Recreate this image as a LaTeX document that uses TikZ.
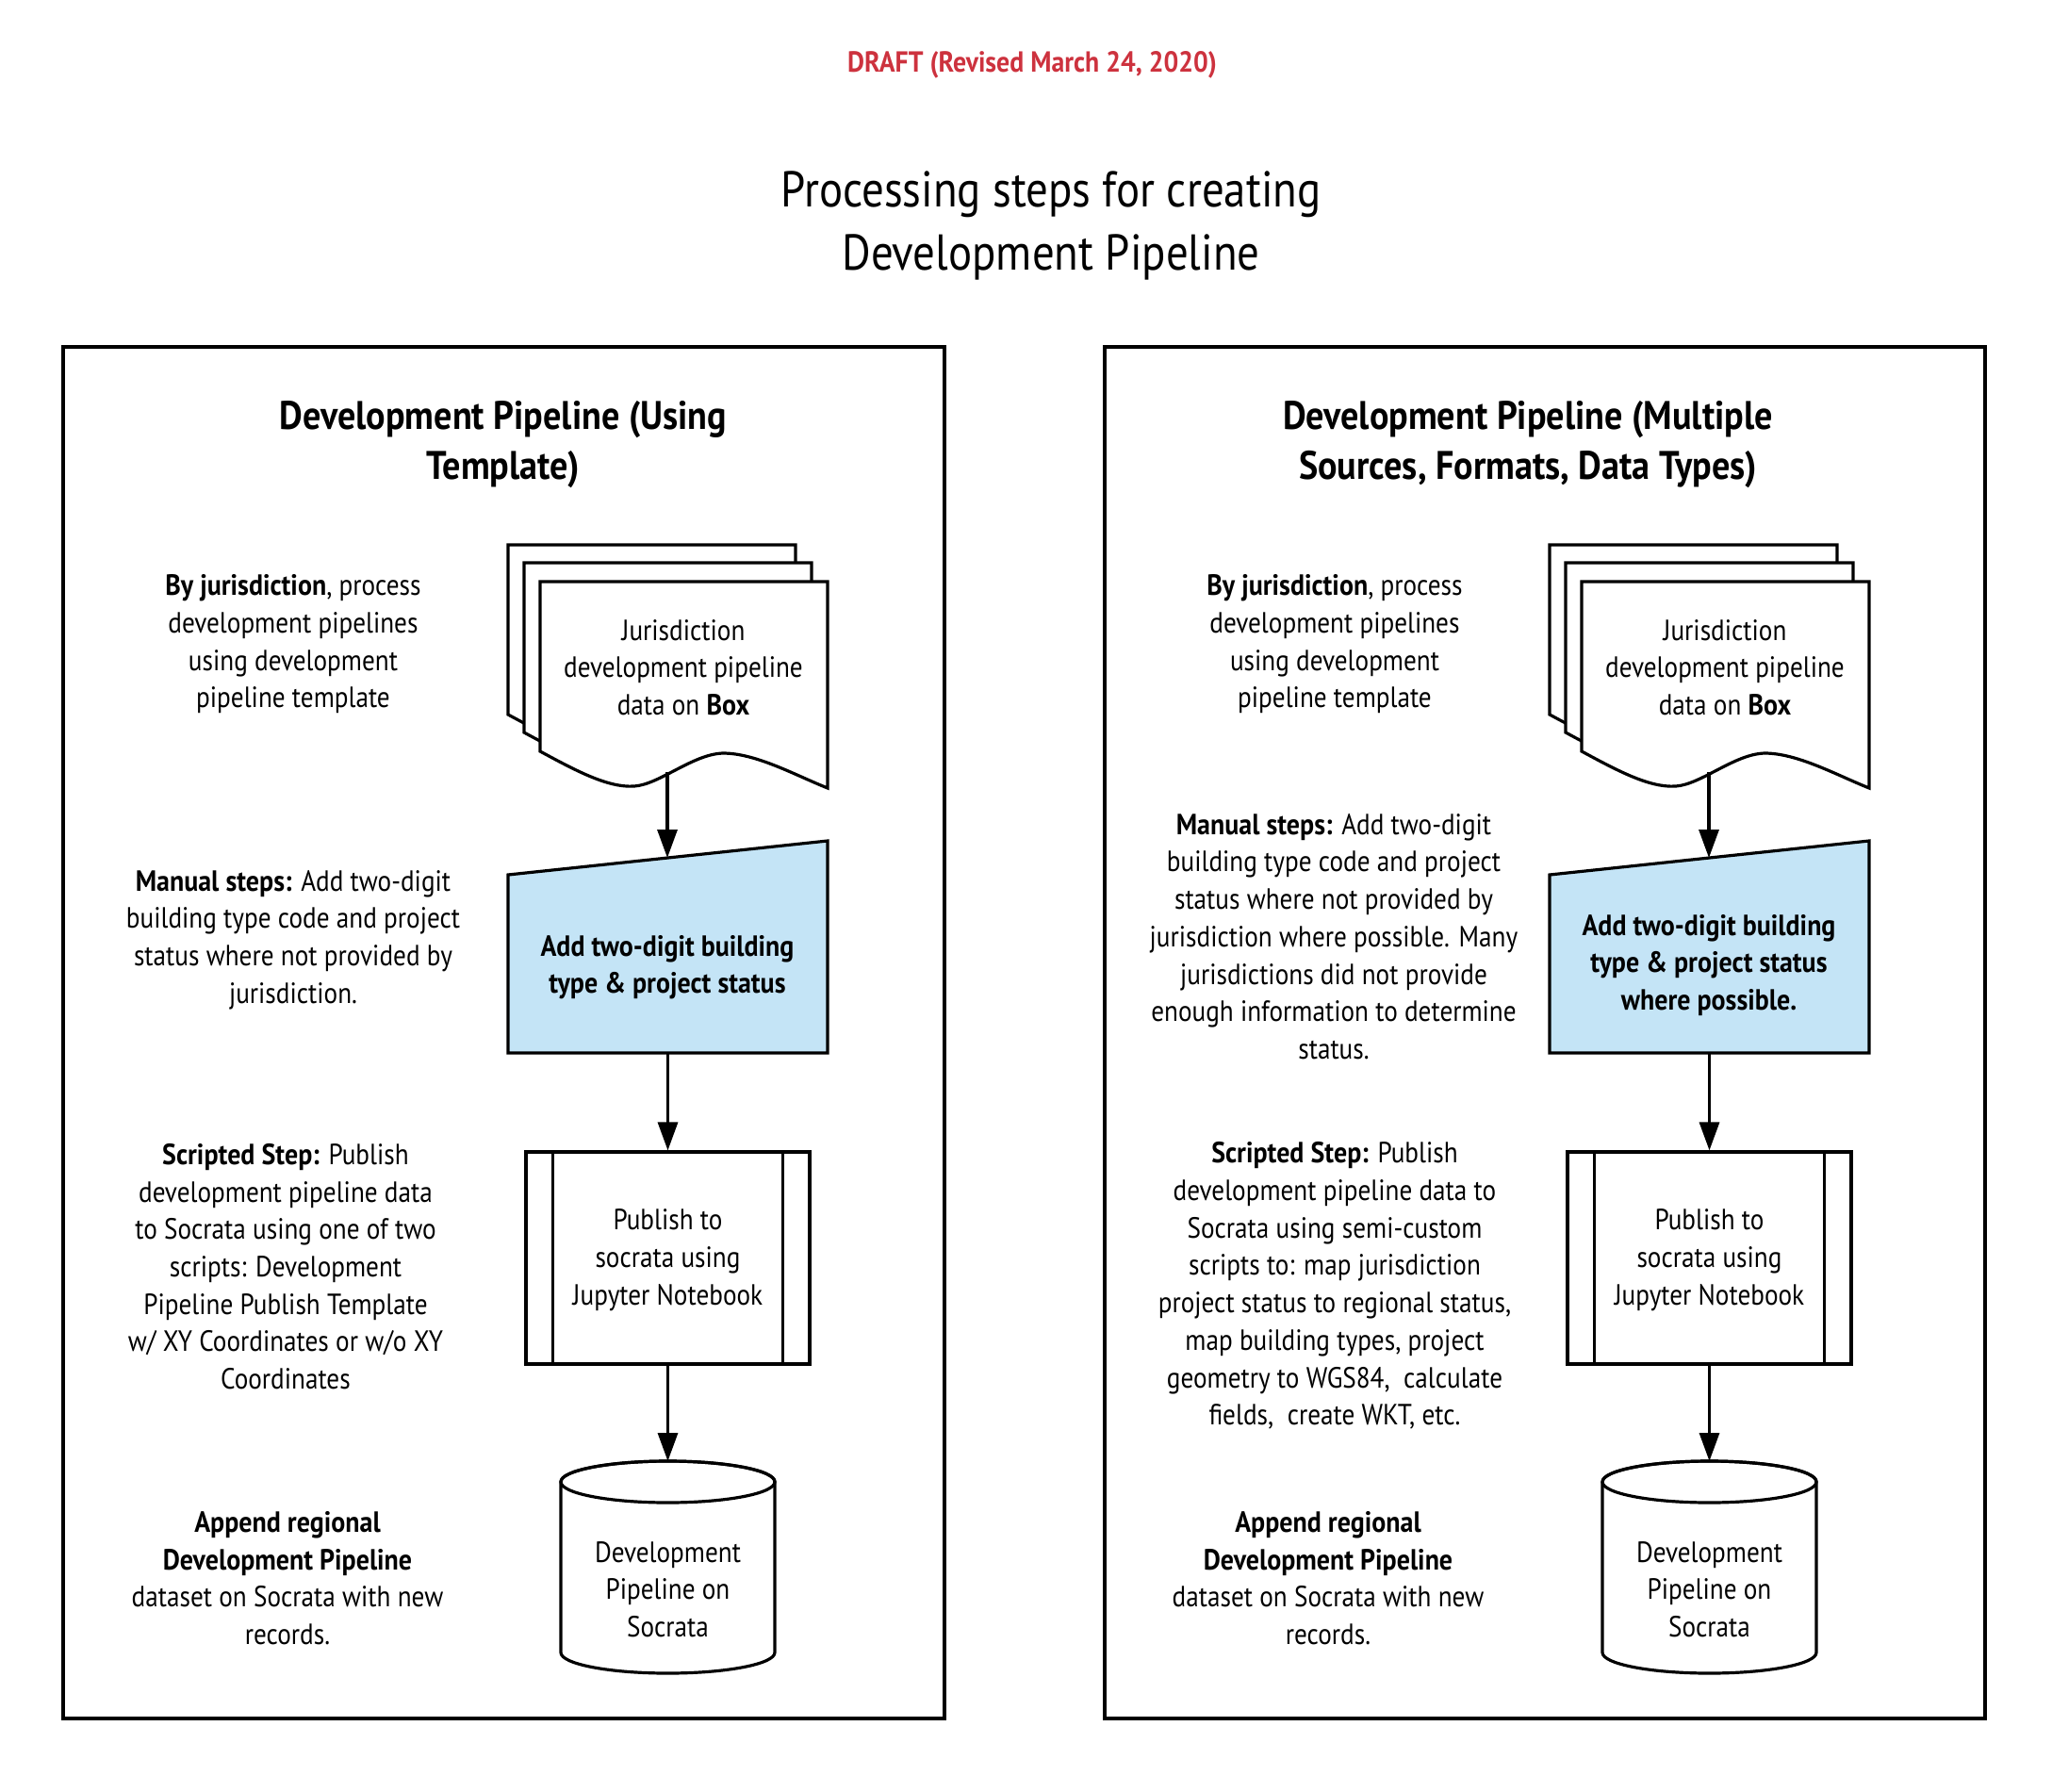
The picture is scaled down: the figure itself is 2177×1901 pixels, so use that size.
\documentclass[tikz,border=0pt]{standalone}
\usepackage{fontspec}
\setmainfont{PT Sans}[FakeStretch=0.878, BoldFeatures={FakeStretch=0.902}]
\usetikzlibrary{arrows.meta}
\definecolor{draftred}{RGB}{205,50,62}
\definecolor{manblue}{RGB}{196,228,246}
\newcommand\docpage[2]{%
  \begin{scope}[shift={(#1,#2)}]
    \draw[shp, fill=white] (0,0) -- (305,0) -- (305,219)
      .. controls (270,205) and (229,182) .. (194,182)
      .. controls (162,183) and (127,215) .. (100,217)
      .. controls (72,219) and (37,200) .. (0,180) -- cycle;
  \end{scope}}
\newcommand\cylshape[1]{%
  \begin{scope}[xshift=#1]
    \draw[shp, fill=white] (595,1572) -- (595,1753)
      .. controls (595,1765.15) and (645.8,1775) .. (708.5,1775)
      .. controls (771.2,1775) and (822,1765.15) .. (822,1753)
      -- (822,1572)
      .. controls (822,1559.85) and (771.2,1550) .. (708.5,1550)
      .. controls (645.8,1550) and (595,1559.85) .. (595,1572) -- cycle;
    \draw[shp] (708.5,1572) ellipse [x radius=113.5, y radius=22];
  \end{scope}}
\tikzset{
  shp/.style={line width=3.2pt, draw=black, line join=miter},
  panel/.style={line width=3.4pt, draw=black},
  body/.style={font=\fontsize{31}{39.7}\selectfont, align=center, inner sep=0pt},
  bbody/.style={font=\fontsize{31}{39.5}\selectfont\bfseries, align=center, inner sep=0pt},
  ptitle/.style={font=\fontsize{42.3}{53}\selectfont\bfseries, align=center, inner sep=0pt},
  mtitle/.style={font=\fontsize{53.4}{67}\selectfont, align=center, inner sep=0pt},
  draft/.style={font=\fontsize{30.8}{38}\selectfont\bfseries, text=draftred, inner sep=0pt},
  proc/.style={shp, fill=white, minimum width=301pt, minimum height=225pt, inner sep=0pt},
  arr/.style={line width=3.2pt, -{Triangle[length=30pt,width=21pt]}},
}
\begin{document}
\begin{tikzpicture}[x=1pt,y=-1pt]
\useasboundingbox[fill=white] (0,0) rectangle (2177,1901);

% headers
\node[draft] (draftlbl) at (1095,69) {DRAFT (Revised March 24, 2020)};
\node[mtitle] (maintitle) at (1115,239.5) {Processing steps for creating\\Development Pipeline};

% panels
\draw[panel] (67,368) rectangle (1002,1823);
\draw[panel] (1172,368) rectangle (2106,1823);
\node[ptitle] (lptitle) at (534,471.5) {Development Pipeline (Using\\Template)};
\node[ptitle] (rptitle) at (1621,471.5) {Development Pipeline (Multiple\\Sources, Formats, Data Types)};

% ---------- left flow ----------
\docpage{539}{578}
\docpage{556}{597}
\docpage{573}{617}
\node[body] (ldoc) at (725,708) {Jurisdiction\\development pipeline\\data on \textbf{Box}};
\coordinate (ldocb) at (708,819);
\draw[shp, fill=manblue] (539,928) -- (878,892) -- (878,1117) -- (539,1117) -- cycle;
\node[bbody] (lman) at (708,1026) {Add two-digit building\\type \& project status};
\coordinate (lmant) at (708,910);
\coordinate (lmanb) at (708.5,1117);
\node[proc] (lproc) at (708.5,1334.5) {};
\node[body] (lproct) at (708.5,1336.5) {Publish to\\socrata using\\Jupyter Notebook};
\draw[shp] ([xshift=30pt]lproc.north west) -- ([xshift=30pt]lproc.south west);
\draw[shp] ([xshift=-30pt]lproc.north east) -- ([xshift=-30pt]lproc.south east);
\cylshape{0pt}
\node[body] (lcyl) at (708.5,1686) {Development\\Pipeline on\\Socrata};
\coordinate (lcylt) at (708.5,1550);
\draw[arr] (ldocb) -- (lmant);
\draw[arr] (lmanb) -- (lproc.north);
\draw[arr] (lproc.south) -- (lcylt);

\node[body] (lt1) at (311,683.5) {\textbf{By jurisdiction}, process\\development pipelines\\using development\\pipeline template};
\node[body] (lt2) at (311,997) {\textbf{Manual steps:} Add two-digit\\building type code and project\\status where not provided by\\jurisdiction.};
\node[body] (lt3) at (303,1343.5) {\textbf{Scripted Step:} Publish\\development pipeline data\\to Socrata using one of two\\scripts: Development\\Pipeline Publish Template\\w/ XY Coordinates or w/o XY\\Coordinates};
\node[body] (lt4) at (305,1674) {\textbf{Append regional}\\\textbf{Development Pipeline}\\dataset on Socrata with new\\records.};

% ---------- right flow ----------
\docpage{1644}{578}
\docpage{1661}{597}
\docpage{1678}{617}
\node[body] (rdoc) at (1830,708) {Jurisdiction\\development pipeline\\data on \textbf{Box}};
\coordinate (rdocb) at (1813,819);
\draw[shp, fill=manblue] (1644,928) -- (1983,892) -- (1983,1117) -- (1644,1117) -- cycle;
\node[bbody] (rman) at (1813,1024) {Add two-digit building\\type \& project status\\where possible.};
\coordinate (rmant) at (1813,910);
\coordinate (rmanb) at (1813.5,1117);
\node[proc] (rproc) at (1813.5,1334.5) {};
\node[body] (rproct) at (1813.5,1336.5) {Publish to\\socrata using\\Jupyter Notebook};
\draw[shp] ([xshift=30pt]rproc.north west) -- ([xshift=30pt]rproc.south west);
\draw[shp] ([xshift=-30pt]rproc.north east) -- ([xshift=-30pt]rproc.south east);
\cylshape{1105pt}
\node[body] (rcyl) at (1813.5,1686) {Development\\Pipeline on\\Socrata};
\coordinate (rcylt) at (1813.5,1550);
\draw[arr] (rdocb) -- (rmant);
\draw[arr] (rmanb) -- (rproc.north);
\draw[arr] (rproc.south) -- (rcylt);

\node[body] (rt1) at (1416,683.5) {\textbf{By jurisdiction}, process\\development pipelines\\using development\\pipeline template};
\node[body] (rt2) at (1415,993.5) {\textbf{Manual steps:} Add two-digit\\building type code and project\\status where not provided by\\jurisdiction where possible. Many\\jurisdictions did not provide\\enough information to determine\\status.};
\node[body] (rt3) at (1416,1364) {\textbf{Scripted Step:} Publish\\development pipeline data to\\Socrata using semi-custom\\scripts to: map jurisdiction\\project status to regional status,\\map building types, project\\geometry to WGS84,\ \ calculate\\fields,\ \ create WKT, etc.};
\node[body] (rt4) at (1409,1674) {\textbf{Append regional}\\\textbf{Development Pipeline}\\dataset on Socrata with new\\records.};
\end{tikzpicture}
\end{document}
